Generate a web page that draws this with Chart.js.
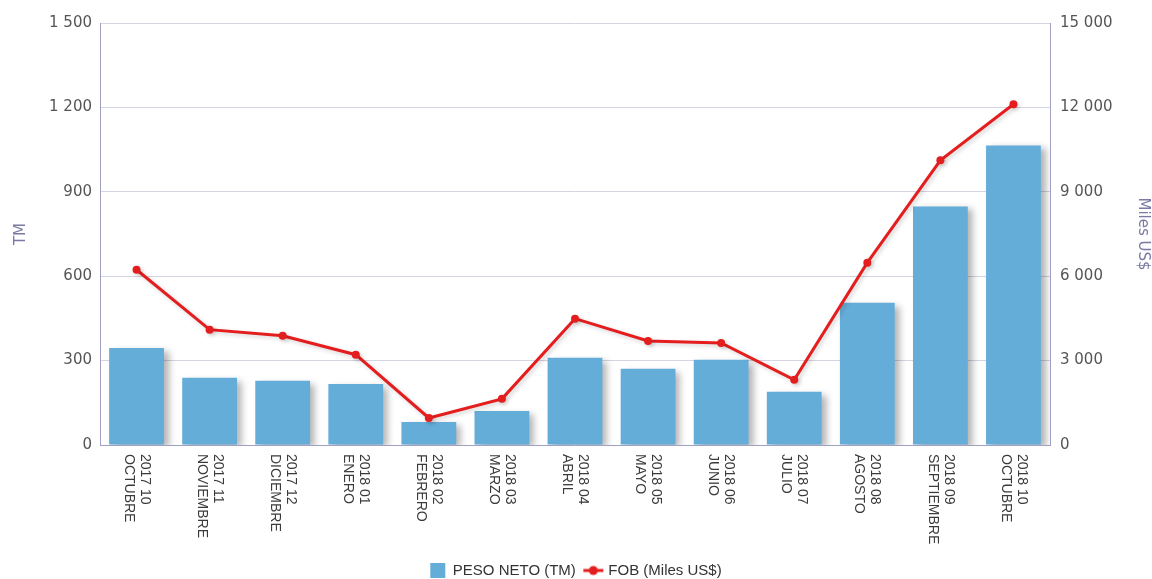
<!DOCTYPE html>
<html>
<head>
<meta charset="utf-8">
<script src="https://cdn.jsdelivr.net/npm/chart.js@4"></script>
<style>
  body { margin: 0; background: #fff; }
  #wrap { width: 1152px; height: 579px; position: relative; }
</style>
</head>
<body>
<div id="wrap"><canvas id="fobChart"></canvas></div>
<script>
// data
var periods = ['2017 10', '2017 11', '2017 12', '2018 01', '2018 02', '2018 03', '2018 04',
               '2018 05', '2018 06', '2018 07', '2018 08', '2018 09', '2018 10'];
var months = ['OCTUBRE', 'NOVIEMBRE', 'DICIEMBRE', 'ENERO', 'FEBRERO', 'MARZO', 'ABRIL',
              'MAYO', 'JUNIO', 'JULIO', 'AGOSTO', 'SEPTIEMBRE', 'OCTUBRE'];
var pesoNeto = [345, 239, 228, 217, 82, 121, 310, 271, 303, 189, 506, 848, 1065];
var fob = [6230, 4100, 3880, 3210, 960, 1640, 4490, 3700, 3630, 2320, 6480, 10120, 12110];

var labels = periods.map(function (p, i) { return [p, months[i]]; });

// thousands with a space, like "1 500"
function fmt(v) {
    return String(v).replace(/\B(?=(\d{3})+(?!\d))/g, ' ');
}

// small icon for the line series in the legend
var lineIcon = document.createElement('canvas');
lineIcon.width = 22; lineIcon.height = 12;
(function () {
    var c = lineIcon.getContext('2d');
    c.strokeStyle = '#e41e1e'; c.lineWidth = 3;
    c.beginPath(); c.moveTo(1, 6); c.lineTo(21, 6); c.stroke();
    c.fillStyle = '#e41e1e';
    c.beginPath(); c.arc(11, 6, 4.5, 0, Math.PI * 2); c.fill();
})();

// drop shadow under bars and line
Chart.register({
    id: 'shadow-plugin',
    beforeDatasetDraw: function (chart, args) {
        var ctx = chart.ctx;
        ctx.save();
        if (args.meta.type === 'bar') {
            ctx.shadowColor = 'rgba(0,0,0,0.3)';
            ctx.shadowBlur = 7;
            ctx.shadowOffsetX = 5;
            ctx.shadowOffsetY = 3;
        } else {
            ctx.shadowColor = 'rgba(0,0,0,0.18)';
            ctx.shadowBlur = 4;
            ctx.shadowOffsetX = 2;
            ctx.shadowOffsetY = 2;
        }
    },
    afterDatasetDraw: function (chart) {
        chart.ctx.restore();
    }
});

// x labels rotated clockwise (reading top to bottom)
Chart.register({
    id: 'vertical-labels',
    afterDraw: function (chart) {
        var ctx = chart.ctx;
        var xs = chart.scales.x;
        ctx.save();
        ctx.font = '14px "Liberation Sans", Arial, sans-serif';
        ctx.fillStyle = '#3a3a3a';
        ctx.textAlign = 'left';
        ctx.textBaseline = 'middle';
        labels.forEach(function (lab, i) {
            var x = xs.getPixelForTick(i);
            ctx.save();
            ctx.translate(x, xs.top + 9);
            ctx.rotate(Math.PI / 2);
            ctx.fillText(lab[0], 0, -8);
            ctx.fillText(lab[1], 0, 8);
            ctx.restore();
        });
        ctx.restore();
    }
});

var tickFont = { family: '"DejaVu Sans", sans-serif', size: 15 };

var ctx = document.getElementById('fobChart').getContext('2d');
var fobChart = new Chart(ctx, {
    data: {
        labels: labels,
        datasets: [{
            type: 'bar',
            label: 'PESO NETO (TM)',
            data: pesoNeto,
            backgroundColor: '#65add9',
            yAxisID: 'y',
            barPercentage: 0.75,
            categoryPercentage: 1,
            order: 1
        },
        {
            type: 'line',
            label: 'FOB (Miles US$)',
            data: fob,
            borderColor: '#e41e1e',
            backgroundColor: '#e41e1e',
            borderWidth: 3,
            pointRadius: 4,
            pointStyle: 'circle',
            pointBackgroundColor: '#e41e1e',
            pointBorderWidth: 0,
            tension: 0,
            yAxisID: 'y1',
            order: 0
        }]
    },
    options: {
        responsive: true,
        maintainAspectRatio: false,
        animation: false,
        layout: { padding: { top: 23, left: 0, right: 0, bottom: -9 } },
        plugins: {
            tooltip: { enabled: false },
            legend: {
                position: 'bottom',
                labels: {
                    usePointStyle: true,
                    padding: 10,
                    color: '#333',
                    font: { family: '"Liberation Sans", Arial, sans-serif', size: 15 },
                    sort: function (a, b) { return a.datasetIndex - b.datasetIndex; },
                    generateLabels: function (chart) {
                        var items = Chart.defaults.plugins.legend.labels.generateLabels(chart);
                        items.forEach(function (it) {
                            if (it.datasetIndex === 1) it.pointStyle = lineIcon;
                            else it.pointStyle = 'rect';
                        });
                        return items;
                    }
                }
            }
        },
        scales: {
            x: {
                grid: { display: false },
                border: { display: true, color: '#a0a0c0' },
                ticks: { display: false },
                afterFit: function (scale) { scale.height = 108; }
            },
            y: {
                position: 'left',
                min: 0,
                max: 1500,
                ticks: {
                    stepSize: 300,
                    padding: 8,
                    color: '#555',
                    font: tickFont,
                    callback: function (v) { return fmt(v); }
                },
                grid: { color: '#d4d4e4', drawTicks: false },
                border: { color: '#a0a0c0' },
                title: {
                    display: true,
                    text: 'TM',
                    color: '#7a7aa4',
                    font: { family: '"DejaVu Sans", sans-serif', size: 15 },
                    padding: { top: 12, bottom: 0 }
                },
                afterFit: function (scale) { scale.width = 100; }
            },
            y1: {
                position: 'right',
                min: 0,
                max: 15000,
                ticks: {
                    stepSize: 3000,
                    padding: 10,
                    color: '#555',
                    font: tickFont,
                    callback: function (v) { return fmt(v); }
                },
                grid: { display: false, drawTicks: false },
                border: { color: '#a0a0c0' },
                title: {
                    display: true,
                    text: 'Miles US$',
                    color: '#7a7aa4',
                    font: { family: '"DejaVu Sans", sans-serif', size: 15 },
                    padding: { top: 0, bottom: 2 }
                },
                afterFit: function (scale) { scale.width = 102; }
            }
        }
    }
});
</script>
</body>
</html>
